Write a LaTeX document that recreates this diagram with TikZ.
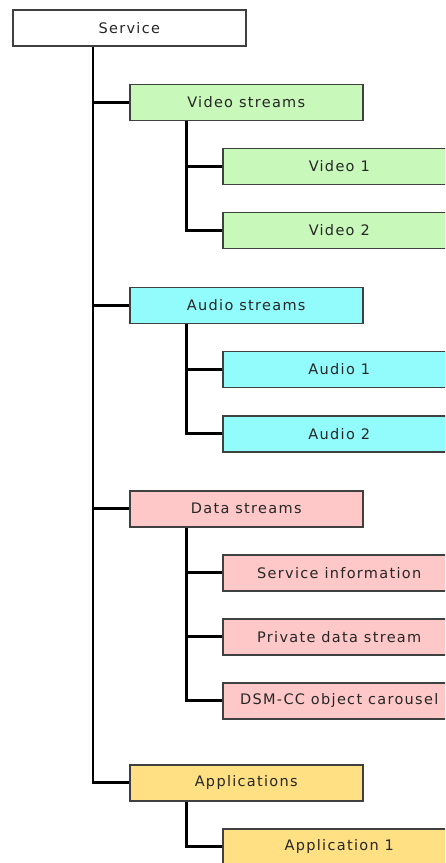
\documentclass[tikz,border=0pt]{standalone}
\usepackage{fontspec}
\setmainfont{DejaVu Sans}[LetterSpace=9]
\definecolor{vidfill}{RGB}{200,248,186}
\definecolor{audfill}{RGB}{146,252,252}
\definecolor{datfill}{RGB}{255,200,200}
\definecolor{appfill}{RGB}{255,224,130}
\definecolor{boxline}{RGB}{64,64,64}
\tikzset{
  box/.style={draw=boxline, line width=1.5pt, minimum width=233pt, minimum height=36pt,
    inner sep=0pt, anchor=north west, font=\fontsize{14.5}{17}\selectfont, text=black!85},
  root/.style={box, fill=white},
  vidbox/.style={box, fill=vidfill},
  audbox/.style={box, fill=audfill},
  datbox/.style={box, fill=datfill},
  appbox/.style={box, fill=appfill},
  link/.style={draw=black, line width=2.6pt, line cap=butt, line join=miter}
}
\begin{document}
\begin{tikzpicture}[x=1pt, y=-1pt]
\clip (0,0) rectangle (445,863);
\fill[white] (0,0) rectangle (445,863);

% service root
\node[root] (svc) at (12,9) {Service};

% first level: stream groups
\node[vidbox] (vid) at (129,83.5) {Video streams};
\node[audbox] (aud) at (129,286.5) {Audio streams};
\node[datbox] (dat) at (129,490) {Data streams};
\node[appbox] (app) at (129,764) {Applications};

% second level: individual streams
\node[vidbox] (v1) at (222,147.5) {Video 1};
\node[vidbox] (v2) at (222,211.5) {Video 2};
\node[audbox] (a1) at (222,350.5) {Audio 1};
\node[audbox] (a2) at (222,415) {Audio 2};
\node[datbox] (d1) at (222,554) {Service information};
\node[datbox] (d2) at (222,618) {Private data stream};
\node[datbox] (d3) at (222,682) {DSM-CC object carousel};
\node[appbox] (p1) at (222,828) {Application 1};

% trunk from the service down to the applications
\coordinate (t) at ([xshift=81pt]svc.south west);
\draw[link] (t) |- (app.west);
\draw[link] (t |- vid.west) -- (vid.west);
\draw[link] (t |- aud.west) -- (aud.west);
\draw[link] (t |- dat.west) -- (dat.west);

% branches of each group
\coordinate (tv) at ([xshift=57.5pt]vid.south west);
\draw[link] (tv) |- (v2.west);
\draw[link] (tv |- v1.west) -- (v1.west);

\coordinate (ta) at ([xshift=57.5pt]aud.south west);
\draw[link] (ta) |- (a2.west);
\draw[link] (ta |- a1.west) -- (a1.west);

\coordinate (td) at ([xshift=57.5pt]dat.south west);
\draw[link] (td) |- (d3.west);
\draw[link] (td |- d1.west) -- (d1.west);
\draw[link] (td |- d2.west) -- (d2.west);

\coordinate (tp) at ([xshift=57.5pt]app.south west);
\draw[link] (tp) |- (p1.west);
\end{tikzpicture}
\end{document}
